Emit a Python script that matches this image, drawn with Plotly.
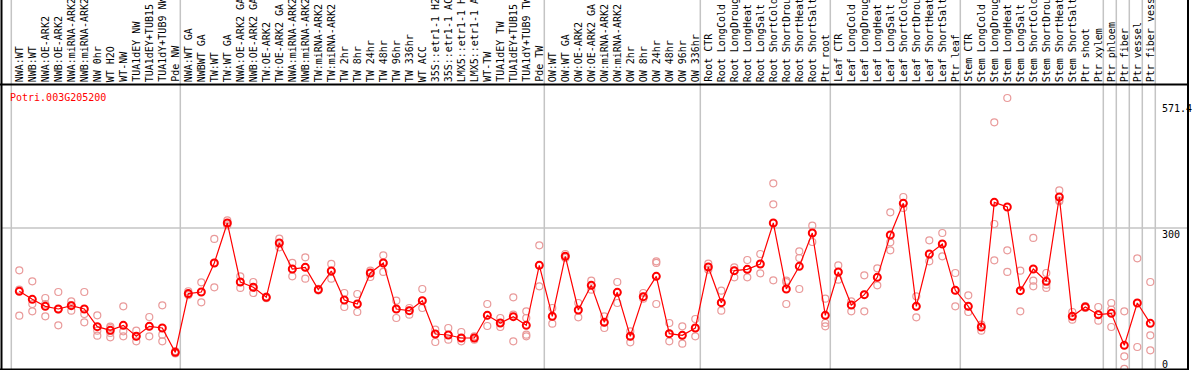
import plotly.graph_objects as go

W, H = 1194, 370

categories = [
    "NWA:WT", "NWB:WT", "NWA:OE-ARK2", "NWB:OE-ARK2", "NWA:miRNA-ARK2", "NWB:miRNA-ARK2",
    "NW 0hr", "WT H2O", "WT-NW", "TUA1dEY NW", "TUA1dEY+TUB15", "TUA1dY+TUB9 NW", "Pde NW",
    "NWA:WT GA", "NWBWT GA", "TW:WT", "TW:WT GA", "NWA:OE-ARK2 GA", "NWB:OE-ARK2 GA",
    "TW:OE-ARK2", "TW:OE-ARK2 GA", "NWA:miRNA-ARK2", "NWB:miRNA-ARK2", "TW:miRNA-ARK2",
    "TW:miRNA-ARK2", "TW 2hr", "TW 8hr", "TW 24hr", "TW 48hr", "TW 96hr", "TW 336hr",
    "WT ACC", "35S::etr1-1 H2", "35S::etr1-1 AC", "LMX5::etr1-1 H", "LMX5::etr1-1 A",
    "WT-TW", "TUA1dEY TW", "TUA1dEY+TUB15", "TUA1dY+TUB9 TW", "Pde TW",
    "OW:WT", "OW:WT GA", "OW:OE-ARK2", "OW:OE-ARK2 GA", "OW:miRNA-ARK2", "OW:miRNA-ARK2",
    "OW 2hr", "OW 8hr", "OW 24hr", "OW 48hr", "OW 96hr", "OW 336hr",
    "Root CTR", "Root LongCold", "Root LongDroug", "Root LongHeat", "Root LongSalt",
    "Root ShortCold", "Root ShortDrou", "Root ShortHeat", "Root ShortSalt", "Ptr root",
    "Leaf CTR", "Leaf LongCold", "Leaf LongDroug", "Leaf LongHeat", "Leaf LongSalt",
    "Leaf ShortCold", "Leaf ShortDrou", "Leaf ShortHeat", "Leaf ShortSalt", "Ptr leaf",
    "Stem CTR", "Stem LongCold", "Stem LongDroug", "Stem LongHeat", "Stem LongSalt",
    "Stem ShortCold", "Stem ShortDrou", "Stem ShortHeat", "Stem ShortSalt", "Ptr shoot",
    "Ptr xylem", "Ptr phloem", "Ptr fiber", "Ptr vessel", "Ptr fiber vess",
]

means = [
    167.8, 151.1, 136.5, 130.9, 137.9, 130.9, 94.0, 86.4, 96.8, 73.9, 94.7, 91.2, 40.4,
    163.0, 166.4, 227.0, 310.5, 187.3, 176.2, 155.3, 268.7, 214.4, 217.9, 171.3, 210.3,
    149.7, 141.3, 206.1, 227.0, 130.9, 127.4, 148.3, 78.7, 76.6, 70.4, 70.4, 117.7, 101.7,
    114.9, 96.8, 222.1,
    115.6, 240.9, 128.8, 180.3, 103.1, 165.7, 73.9, 156.7, 199.1, 79.4, 75.9, 91.2,
    218.6, 144.1, 211.0, 213.7, 224.9, 310.5, 172.7, 220.0, 289.6, 117.7,
    208.2, 139.3, 160.8, 197.0, 285.4, 351.5, 136.5, 245.7, 266.6, 169.9,
    136.5, 93.3, 353.6, 343.9, 169.2, 214.4, 188.7, 364.7, 115.6, 135.1, 119.1, 121.9,
    55.1, 143.4, 101.0,
]

replicates = [
    [211.6, 171.3, 117.0], [188.7, 141.3, 126.0], [153.9, 141.3, 115.6], [166.4, 130.0, 96.8],
    [147.0, 139.0, 127.4], [166.4, 120.5, 103.1], [117.7, 85.7, 75.2], [94.0, 91.2, 80.8, 71.8],
    [136.5, 84.3, 73.9], [85.7, 73.9, 63.4], [114.2, 94.7, 73.9], [138.6, 77.3, 63.4],
    [43.0, 40.4, 38.0],
    [168.0, 161.0, 160.0], [186.6, 166.4, 144.8], [277.1, 227.0, 176.2], [316.0, 310.0, 305.6],
    [199.1, 187.3, 174.8], [187.3, 176.2, 164.3], [157.0, 155.3, 153.5], [277.8, 268.7, 259.7],
    [227.0, 214.4, 199.1], [238.8, 217.9, 194.2], [173.0, 171.3, 169.5], [224.9, 210.3, 194.2],
    [164.3, 149.7, 135.1], [162.2, 141.3, 124.6], [211.0, 206.1, 197.7], [243.0, 227.0, 208.2],
    [148.3, 130.9, 112.1], [133.0, 127.4, 119.1], [172.7, 148.3, 133.0], [87.8, 78.7, 62.0],
    [91.2, 76.6, 66.9], [82.9, 70.4, 63.4], [73.9, 70.4, 66.9], [141.3, 117.7, 95.4],
    [112.1, 101.7, 93.3], [155.3, 119.1, 63.4], [126.0, 112.1, 77.3, 73.9], [263.8, 222.1, 178.3],
    [133.0, 115.6, 100.3], [245.7, 240.9, 237.4], [143.4, 128.8, 113.5], [190.1, 180.3, 171.3],
    [115.6, 103.1, 91.2], [187.3, 165.7, 143.4], [84.3, 73.9, 61.3], [164.3, 156.7, 152.5],
    [230.4, 227.0, 141.3], [101.7, 79.4, 63.4], [94.7, 75.9, 58.5], [110.0, 91.2, 73.9],
    [225.6, 218.6, 213.0], [169.2, 144.1, 127.4], [217.9, 211.0, 197.0], [233.2, 213.7, 197.0],
    [245.7, 224.9, 205.4], [393.3, 349.4, 190.8], [190.1, 187.0, 141.3], [251.3, 237.4, 172.7],
    [304.9, 289.6, 270.8], [152.5, 101.7, 94.7],
    [222.1, 208.2, 192.2], [147.0, 139.3, 126.0], [201.2, 160.8, 126.0], [215.8, 197.0, 180.3],
    [332.7, 270.1, 253.4], [364.7, 351.5, 341.8], [157.4, 136.5, 113.5], [274.3, 245.7, 230.4],
    [289.6, 266.6, 240.9], [206.1, 169.9, 136.5],
    [159.4, 136.5, 124.6], [98.2, 93.3, 85.7], [520.6, 308.4, 232.5], [571.4, 253.4, 208.2],
    [211.0, 169.2, 126.0], [279.2, 190.1, 178.2], [206.1, 181.7, 174.8], [378.7, 357.8, 355.7],
    [124.6, 115.6, 108.6], [137.0, 135.1, 133.0], [135.1, 119.1, 106.6], [143.4, 129.5, 93.3],
    [126.0, 32.1, 5.7], [236.7, 143.4, 51.6], [187.3, 75.9, 44.6],
]

group_ends = [12, 40, 52, 62, 72, 83, 84, 85, 86, 87]
gene = "Potri.003G205200"
y_ticks = [571.4, 300, 0]

FONT = "DejaVu Sans Mono"
RED = "#ff0000"
PINK = "#e99a9a"
GRAY = "#c4c4c4"

# pixel geometry
PX0, PX1 = 2, 1188       # plot area left/right (px)
PY_TOP, PY_BOT = 85, 369  # plot area top/bottom (px)
X_STEP, X_ORIG = 13.0, 19.3
Y_SCALE, Y_ZERO = 0.479, 371.7


def px_to_i(p):
    return (p - X_ORIG) / X_STEP


def py_to_v(p):
    return (Y_ZERO - p) / Y_SCALE


def pxp(p):
    return p / W


def pyp(p):
    return 1 - p / H


n = len(categories)
xs = list(range(n))
rx, ry = [], []
for i, reps in enumerate(replicates):
    for v in reps:
        rx.append(i)
        ry.append(v)

fig = go.Figure()
fig.add_trace(go.Scatter(
    x=rx, y=ry, mode="markers",
    marker=dict(symbol="circle-open", size=7, color=PINK, line=dict(width=1.2, color=PINK)),
    hoverinfo="skip", showlegend=False,
))
fig.add_trace(go.Scatter(
    x=xs, y=means, mode="lines+markers",
    line=dict(color=RED, width=1.2),
    marker=dict(symbol="circle-open", size=7, color=RED, line=dict(width=2, color=RED)),
    text=categories, showlegend=False,
))

shapes = []
# horizontal grid line at 300
shapes.append(dict(type="line", xref="paper", yref="y", x0=pxp(PX0), x1=pxp(PX1), y0=300, y1=300,
                   line=dict(color=GRAY, width=1.5), layer="below"))
# group separators (full height)
sep_positions = [-1] + group_ends
for g in sep_positions:
    xpix = X_ORIG + X_STEP * (g + 0.5) - 1.5
    shapes.append(dict(type="line", xref="paper", yref="paper", x0=pxp(xpix), x1=pxp(xpix),
                       y0=pyp(PY_BOT), y1=1, line=dict(color=GRAY, width=1.5), layer="below"))
# black frame
shapes.append(dict(type="line", xref="paper", yref="paper", x0=pxp(1.5), x1=pxp(1.5), y0=pyp(370), y1=1,
                   line=dict(color="black", width=2)))
shapes.append(dict(type="line", xref="paper", yref="paper", x0=pxp(1188), x1=pxp(1188), y0=pyp(370), y1=1,
                   line=dict(color="black", width=2)))
shapes.append(dict(type="line", xref="paper", yref="paper", x0=pxp(0), x1=pxp(1189), y0=pyp(84.5), y1=pyp(84.5),
                   line=dict(color="black", width=2)))
shapes.append(dict(type="line", xref="paper", yref="paper", x0=pxp(0), x1=pxp(1189), y0=pyp(369.5), y1=pyp(369.5),
                   line=dict(color="black", width=2)))

annotations = []
for i, lab in enumerate(categories):
    annotations.append(dict(x=i, xref="x", y=pyp(83), yref="paper", text=lab, textangle=-90,
                            xanchor="center", yanchor="bottom", showarrow=False, borderpad=0,
                            font=dict(family=FONT, size=10, color="black")))
annotations.append(dict(x=pxp(8.5), xref="paper", y=pyp(90.5), yref="paper", text=gene,
                        xanchor="left", yanchor="top", showarrow=False, borderpad=0,
                        font=dict(family=FONT, size=10, color=RED)))
tick_tops = [102.5, 228.0, 358.0]
for t, top in zip(y_ticks, tick_tops):
    annotations.append(dict(x=pxp(1160.5), xref="paper", y=pyp(top), yref="paper",
                            text=("%g" % t), xanchor="left", yanchor="top", showarrow=False, borderpad=0,
                            font=dict(family=FONT, size=10, color="black")))

fig.update_layout(
    width=W, height=H, autosize=False,
    margin=dict(l=0, r=0, t=0, b=0, pad=0),
    paper_bgcolor="white", plot_bgcolor="white",
    xaxis=dict(domain=[pxp(PX0), pxp(PX1)], range=[px_to_i(PX0), px_to_i(PX1)],
               showgrid=False, zeroline=False, showticklabels=False, ticks="", fixedrange=True),
    yaxis=dict(domain=[pyp(PY_BOT), pyp(PY_TOP)], range=[py_to_v(PY_BOT), py_to_v(PY_TOP)],
               showgrid=False, zeroline=False, showticklabels=False, ticks="", fixedrange=True),
    shapes=shapes, annotations=annotations, showlegend=False,
)

fig.write_html(
    "out.html",
    config={"displayModeBar": False},
    post_script="document.body.style.margin='0';document.body.style.padding='0';document.body.style.overflow='hidden';",
)
